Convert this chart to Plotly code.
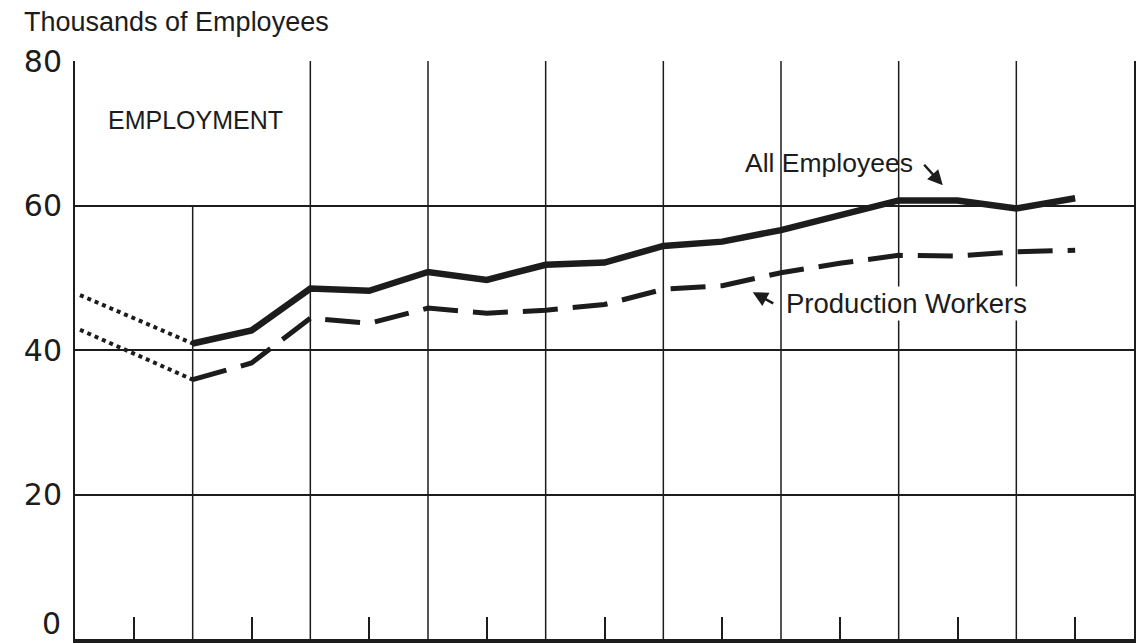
import plotly.graph_objects as go

# ---- data (x in half-interval units; grid lines at even positions) ----
x_main = [2, 3, 4, 5, 6, 7, 8, 9, 10, 11, 12, 13, 14, 15, 16, 17]
all_employees = [40.9, 42.7, 48.5, 48.2, 50.8, 49.7, 51.8, 52.1, 54.4, 55.0,
                 56.6, 58.6, 60.7, 60.7, 59.6, 61.0]
production_workers = [35.9, 38.2, 44.4, 43.7, 45.8, 45.1, 45.5, 46.3, 48.4, 48.9,
                      50.7, 52.0, 53.1, 53.0, 53.6, 53.8]
x_dotted = [0.085, 2]
all_dotted = [47.6, 40.9]
prod_dotted = [42.8, 35.9]

y_ticks = [20, 40, 60, 80]
y_ticktext = ["20", "40", "60", "80"]
x_minor_ticks = [1, 3, 5, 7, 9, 11, 13, 15, 17]
x_grid = [2, 4, 6, 8, 10, 12, 14, 16]

INK = "#1c1c1c"
TXT = "Liberation Sans, Arial"
fig = go.Figure()

fig.add_trace(go.Scatter(x=x_dotted, y=all_dotted, mode="lines",
                         line=dict(color=INK, width=4, dash="4px,4px"), showlegend=False))
fig.add_trace(go.Scatter(x=x_dotted, y=prod_dotted, mode="lines",
                         line=dict(color=INK, width=4, dash="4px,4px"), showlegend=False))
fig.add_trace(go.Scatter(x=x_main, y=all_employees, mode="lines",
                         line=dict(color=INK, width=6.5), showlegend=False))
fig.add_trace(go.Scatter(x=x_main, y=production_workers, mode="lines",
                         line=dict(color=INK, width=5, dash="35px,15px"), showlegend=False))

shapes = []
for gx in x_grid:
    top = 60 if gx == 2 else 80
    shapes.append(dict(type="line", xref="x", yref="y", x0=gx, x1=gx, y0=0, y1=top,
                       line=dict(color=INK, width=1.5), layer="below"))
fig.update_layout(shapes=shapes)

annotations = [
    dict(text="Thousands of Employees", xref="paper", yref="paper", x=-0.05, y=1.0675,
         xanchor="left", yanchor="middle", showarrow=False,
         font=dict(family=TXT, size=27, color=INK)),
    dict(text="EMPLOYMENT", xref="x", yref="y", x=2.04, y=71.8,
         xanchor="center", yanchor="middle", showarrow=False,
         font=dict(family=TXT, size=25, color=INK)),
    dict(text="All Employees", xref="x", yref="y", x=12.82, y=65.9,
         xanchor="center", yanchor="middle", showarrow=False,
         font=dict(family=TXT, size=26.5, color=INK)),
    dict(text="", xref="x", yref="y", x=14.75, y=62.8, ax=-20, ay=-22,
         showarrow=True, arrowhead=2, arrowsize=1.2, arrowwidth=2.5, arrowcolor=INK),
    dict(text="Production Workers", xref="x", yref="y", x=14.13, y=46.5,
         xanchor="center", yanchor="middle", showarrow=False, bgcolor="white",
         font=dict(family=TXT, size=27.5, color=INK)),
    dict(text="", xref="x", yref="y", x=11.52, y=48.0, ax=22, ay=12,
         showarrow=True, arrowhead=2, arrowsize=1.2, arrowwidth=2.5, arrowcolor=INK),
    # zero label of the y axis, lifted slightly so it stays inside the page
    dict(text="0", xref="paper", yref="y", x=-0.0115, y=0, xanchor="right",
         yanchor="bottom", yshift=-4, showarrow=False,
         font=dict(family="DejaVu Sans", size=30, color=INK)),
]
fig.update_layout(annotations=annotations)

fig.update_layout(
    width=1138, height=643,
    margin=dict(l=75, r=4, t=61, b=4, autoexpand=False),
    paper_bgcolor="white", plot_bgcolor="white",
    xaxis=dict(range=[0, 18], showgrid=False, zeroline=False, automargin=False,
               showline=True, linecolor=INK, linewidth=4,
               tickvals=x_minor_ticks, ticktext=[""] * len(x_minor_ticks),
               ticks="inside", ticklen=22, tickwidth=2, tickcolor=INK),
    yaxis=dict(range=[0, 80], tickvals=y_ticks, ticktext=y_ticktext, automargin=False,
               showgrid=True, gridcolor=INK, gridwidth=1.5, zeroline=False,
               showline=True, mirror=True, linecolor=INK, linewidth=2,
               ticks="", ticklabelstandoff=5, ticklabeloverflow="allow",
               tickfont=dict(family="DejaVu Sans", size=30, color=INK)),
)

fig.write_html("out.html", config={"displayModeBar": False},
               post_script="document.body.style.margin='0';document.body.style.overflow='hidden';")
